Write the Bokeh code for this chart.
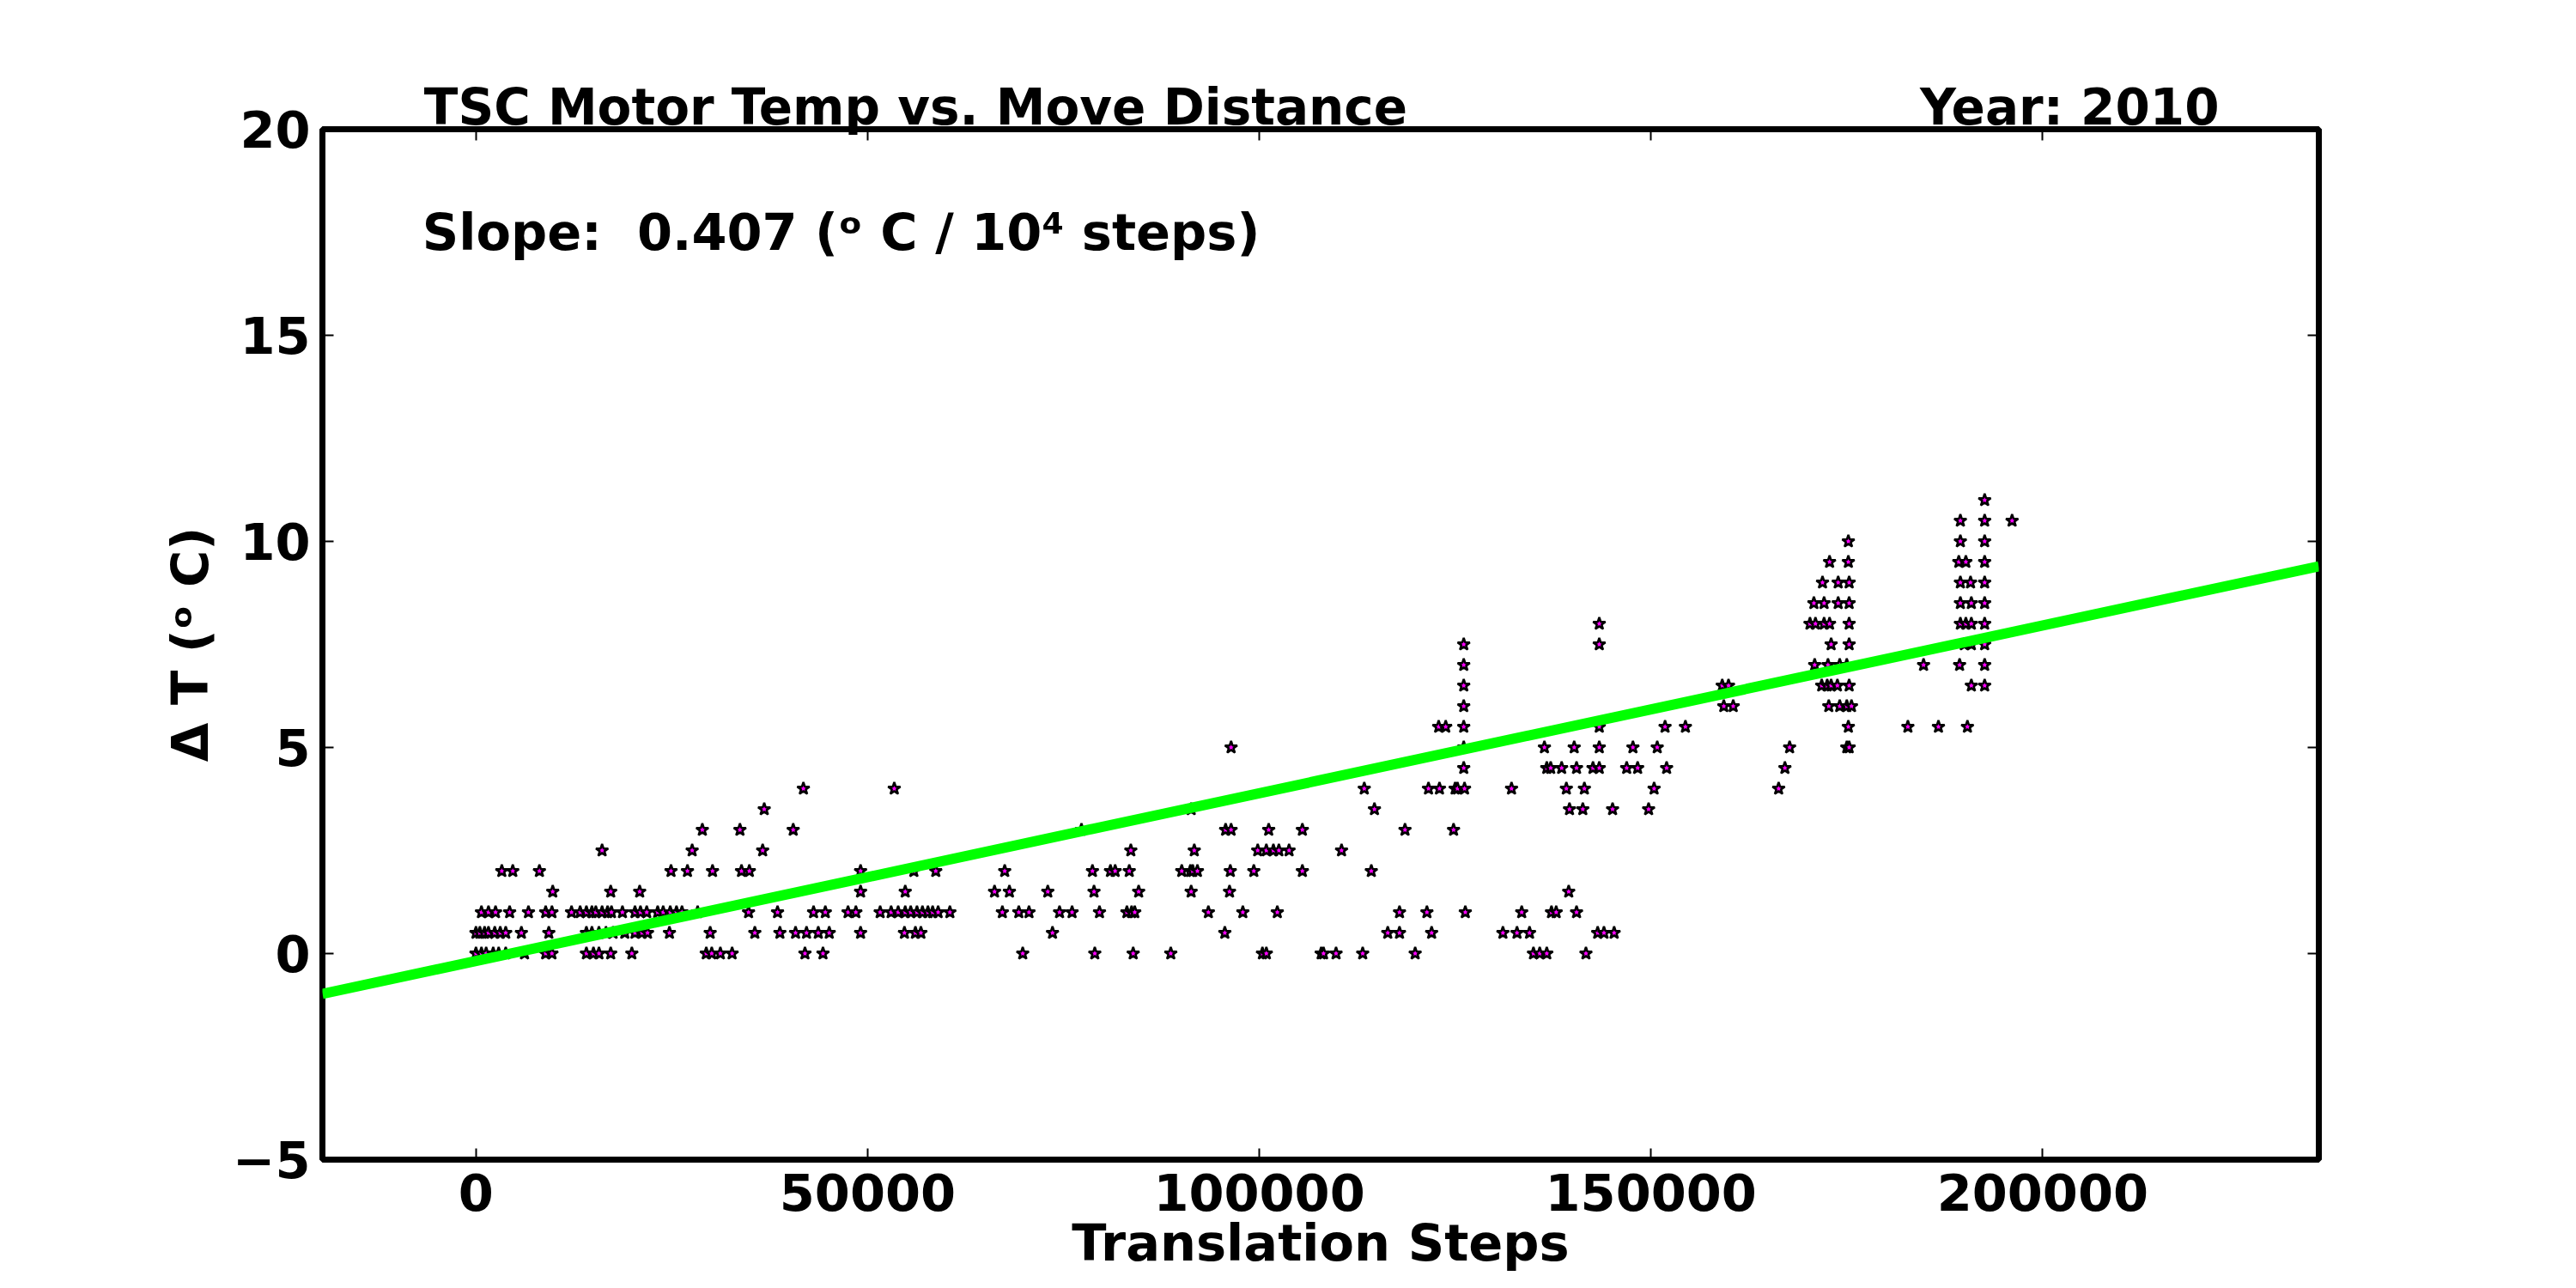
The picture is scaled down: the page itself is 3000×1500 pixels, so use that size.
import numpy as np
from bokeh.plotting import figure
from bokeh.models import Range1d, FixedTicker, LinearAxis, Label
from bokeh.embed import file_html
from bokeh.resources import INLINE

# ---- data: translation steps of each move, grouped by measured delta T (deg C) ----
steps_dt_00 = [0, 700, 1300, 2200, 2900, 3800, 6200, 8900, 9700, 14100, 15000, 15700, 17200,
               19900, 29400, 30100, 31200, 32700, 42000, 44300, 69800, 79000, 83900, 88700,
               100400, 100900, 107900, 108200, 109800, 113200, 119900, 135000, 135800,
               136700, 141700]
steps_dt_05 = [0, 500, 1100, 1600, 2400, 3100, 3800, 5800, 9300, 14100, 14800, 15700, 16600,
               17500, 19000, 20300, 21200, 21900, 24700, 29900, 35600, 38800, 40800, 42200,
               43700, 45100, 49100, 54700, 56100, 56800, 73600, 95600, 116400, 117900, 122000,
               131100, 132900, 134500, 143200, 144000, 145300]
steps_dt_10 = [700, 1600, 2500, 4300, 6700, 8900, 9700, 12200, 13300, 14100, 14800, 15300,
               16100, 16800, 17300, 18700, 20300, 21000, 21800, 23200, 23900, 24800, 25600,
               26300, 28300, 34800, 38500, 43100, 44600, 47500, 48500, 51600, 53000, 53900,
               54800, 55500, 56300, 57000, 57700, 58300, 59000, 60500, 67200, 69300, 70600,
               74500, 76100, 79600, 83100, 83700, 84100, 93500, 97900, 102300, 117900, 121400,
               126300, 133500, 137300, 137900, 140500]
steps_dt_15 = [9800, 17200, 20900, 49100, 54800, 66200, 68100, 73000, 78900, 84600, 91300,
               96200, 139500]
steps_dt_20 = [3300, 4700, 8100, 24900, 27000, 30200, 33900, 34900, 49100, 55900, 58700, 67500,
               78700, 81000, 81600, 83400, 90100, 91200, 91500, 92100, 96300, 99300, 105500,
               114300]
steps_dt_25 = [16100, 27600, 36600, 83600, 91700, 99800, 100900, 101800, 102500, 103800, 110500]
steps_dt_30 = [28900, 33700, 40500, 77300, 95700, 96400, 101200, 105500, 118600, 124800]
steps_dt_35 = [36800, 91300, 114700, 139600, 141300, 145100, 149700]
steps_dt_40 = [41800, 53400, 113400, 121600, 123000, 125000, 125300, 126200, 132200, 139200,
               141500, 150400, 166300]
steps_dt_45 = [126100, 136700, 137200, 138600, 140500, 142600, 143400, 146900, 148300, 152000,
               167100]
steps_dt_50 = [96400, 126100, 136400, 140200, 143400, 147700, 150800, 167700, 175000, 175300]
steps_dt_55 = [122900, 123800, 126100, 143400, 151800, 154400, 175200, 182800, 186700, 190400]
steps_dt_60 = [126100, 159300, 160500, 172700, 174100, 175000, 175600]
steps_dt_65 = [126100, 159100, 159900, 171800, 172500, 173000, 173800, 175300, 190900, 192600]
steps_dt_70 = [126100, 170900, 172600, 174100, 175000, 184800, 189400, 192600]
steps_dt_75 = [126100, 143400, 173000, 175300, 190000, 190900, 192600]
steps_dt_80 = [143400, 170300, 171000, 172100, 172800, 175300, 189500, 190200, 190900, 192600]
steps_dt_85 = [170800, 172100, 173900, 175300, 189500, 190900, 192600]
steps_dt_90 = [171900, 173900, 175300, 189500, 190800, 192600]
steps_dt_95 = [172800, 175200, 189300, 190200, 192600]
steps_dt_100 = [175200, 189500, 192600]
steps_dt_105 = [189500, 192600, 196100]
steps_dt_110 = [192600]

dt_levels = [0.0, 0.5, 1.0, 1.5, 2.0, 2.5, 3.0, 3.5, 4.0, 4.5, 5.0, 5.5, 6.0, 6.5, 7.0, 7.5,
             8.0, 8.5, 9.0, 9.5, 10.0, 10.5, 11.0]
steps_groups = [steps_dt_00, steps_dt_05, steps_dt_10, steps_dt_15, steps_dt_20, steps_dt_25,
                steps_dt_30, steps_dt_35, steps_dt_40, steps_dt_45, steps_dt_50, steps_dt_55,
                steps_dt_60, steps_dt_65, steps_dt_70, steps_dt_75, steps_dt_80, steps_dt_85,
                steps_dt_90, steps_dt_95, steps_dt_100, steps_dt_105, steps_dt_110]

# linear fit (deg C per step) and intercept
fit_slope = 0.407e-4
fit_intercept = -0.18

x_ticks = [0, 50000, 100000, 150000, 200000]
y_ticks = [-5, 0, 5, 10, 15, 20]
x_min, x_max = -19600, 235260
y_min, y_max = -5, 20
year = 2010

title_text = "TSC Motor Temp vs. Move Distance"
year_text = f"Year: {year}"
xlabel_text = "Translation Steps"
ylabel_text = "Δ T (ᵒ C)"
# horizontal centres (in steps) of the two header texts above the frame
title_center = 56140
year_center = 203440

# ---- assemble ----
xs, ys = [], []
for lvl, grp in zip(dt_levels, steps_groups):
    xs += grp
    ys += [lvl] * len(grp)

FONT = "DejaVu Sans"
FS = "59px"

p = figure(width=2984, height=1484, output_backend="svg", toolbar_location=None,
           x_range=Range1d(x_min, x_max), y_range=Range1d(y_min, y_max),
           min_border_left=375, min_border_right=284, min_border_top=150,
           min_border_bottom=134)
p.background_fill_color = "white"
p.border_fill_color = "white"
p.outline_line_color = "black"
p.outline_line_width = 7
p.grid.visible = False

top_ticks = LinearAxis()
p.add_layout(top_ticks, "above")
header = LinearAxis()
p.add_layout(header, "above")
p.add_layout(LinearAxis(), "right")

bottom = p.below[0]
left = p.left[0]
right = p.right[0]

bottom.ticker = FixedTicker(ticks=x_ticks)
top_ticks.ticker = FixedTicker(ticks=x_ticks)
left.ticker = FixedTicker(ticks=y_ticks)
right.ticker = FixedTicker(ticks=y_ticks)
header.ticker = FixedTicker(ticks=[title_center, year_center])

for ax in p.axis:
    ax.axis_line_color = None
    ax.major_tick_in = 13
    ax.major_tick_out = 0
    ax.major_tick_line_width = 2
    ax.major_tick_line_color = "black"
    ax.minor_tick_line_color = None
    ax.major_label_text_font = FONT
    ax.major_label_text_font_style = "bold"
    ax.major_label_text_font_size = FS
    ax.major_label_text_color = "black"
    ax.axis_label_text_font = FONT
    ax.axis_label_text_font_style = "bold"
    ax.axis_label_text_font_size = FS
    ax.axis_label_text_color = "black"

bottom.major_label_overrides = {t: str(t) for t in x_ticks}
bottom.major_label_standoff = 16
bottom.axis_label = xlabel_text
bottom.axis_label_standoff = 0

left.major_label_overrides = {t: (("−" + str(-t)) if t < 0 else str(t)) for t in y_ticks}
left.major_label_standoff = 14
left.axis_label = ylabel_text
left.axis_label_standoff = 12

top_ticks.major_label_overrides = {t: "" for t in x_ticks}
top_ticks.major_label_text_font_size = "0px"
top_ticks.major_label_standoff = 0

right.major_label_overrides = {t: "" for t in y_ticks}
right.major_label_text_font_size = "0px"

header.major_tick_in = 0
header.major_tick_line_color = None
header.major_label_overrides = {title_center: title_text, year_center: year_text}
header.major_label_text_font_size = "58px"
header.major_label_standoff = -8

# data points, then fit line over them
p.scatter(xs, ys, marker="star", size=15, fill_color="#ff00ff", line_color="black",
          line_width=2.5)
line_x = [x_min, x_max]
line_y = [fit_intercept + fit_slope * v for v in line_x]
p.line(line_x, line_y, line_color="#00ff00", line_width=12)

span = x_max - x_min
p.add_layout(Label(x=x_min + 0.05 * span, y=17.5,
                   text=f"Slope:\u00a0 {fit_slope * 1e4:.3f} (ᵒ C / 10⁴ steps)",
                   text_align="left", text_baseline="alphabetic", text_font=FONT,
                   text_font_style="bold", text_font_size=FS, text_color="black"))

open("out.html", "w").write(file_html(p, INLINE))
